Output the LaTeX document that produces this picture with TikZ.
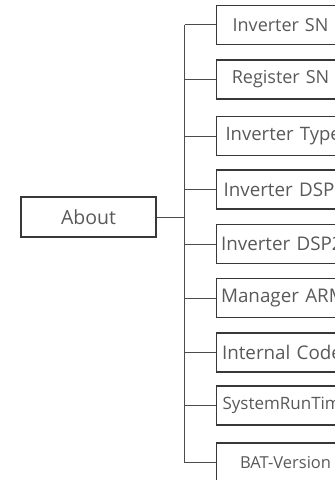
\documentclass[tikz,border=0pt]{standalone}
\usepackage{fontspec}
\setmainfont{Open Sans}
\begin{document}
\begin{tikzpicture}[x=1pt,y=-1pt,
  boxline/.style={draw=black!78,line width=1.1pt},
  textcol/.style={text=black!65},
  leafc/.style={boxline,textcol,anchor=west,minimum height=39pt,inner ysep=0pt,inner xsep=0pt,text width=128pt,align=center,font=\fontsize{18}{20}\selectfont},
  leafl/.style={boxline,textcol,anchor=west,minimum height=39pt,inner ysep=0pt,inner xsep=#1,text width=134pt,align=left,font=\fontsize{18.8}{21}\selectfont},
  leafl/.default=6pt,
  conn/.style={draw=black!70,line width=0.9pt}]
\clip (0,0) rectangle (335,480);
\node[boxline,textcol,minimum width=135pt,minimum height=40pt,inner sep=0pt,font=\fontsize{19.5}{21}\selectfont] (about) at (88.5,217) {About};
\coordinate (trunk) at (184.5,217);
\node[leafc] (b1) at (216,24.7) {Inverter SN};
\node[leafc] (b2) at (216,79.5) {Register SN};
\node[leafl=9pt,font=\fontsize{18.5}{21}\selectfont] (b3) at (216,136) {Inverter Type};
\node[leafl=7pt] (b4) at (216,189.5) {Inverter DSP1};
\node[leafl=4.5pt] (b5) at (216,244) {Inverter DSP2};
\node[leafl=4.5pt] (b6) at (216,298) {Manager ARM};
\node[leafl=5.5pt] (b7) at (216,352.5) {Internal Code};
\node[leafl=6pt,font=\fontsize{17}{19}\selectfont] (b8) at (216,405.5) {SystemRunTime};
\node[leafc,text width=138pt,font=\fontsize{16.5}{18}\selectfont] (b9) at (216,462.5) {BAT-Version};
\draw[conn] (about.east) -- (trunk);
\draw[conn] (trunk |- b1.west) -- (trunk |- b9.west);
\foreach \b in {b1,b2,b3,b4,b5,b6,b7,b8,b9}
  \draw[conn] (trunk |- \b.west) -- (\b.west);
\end{tikzpicture}
\end{document}
